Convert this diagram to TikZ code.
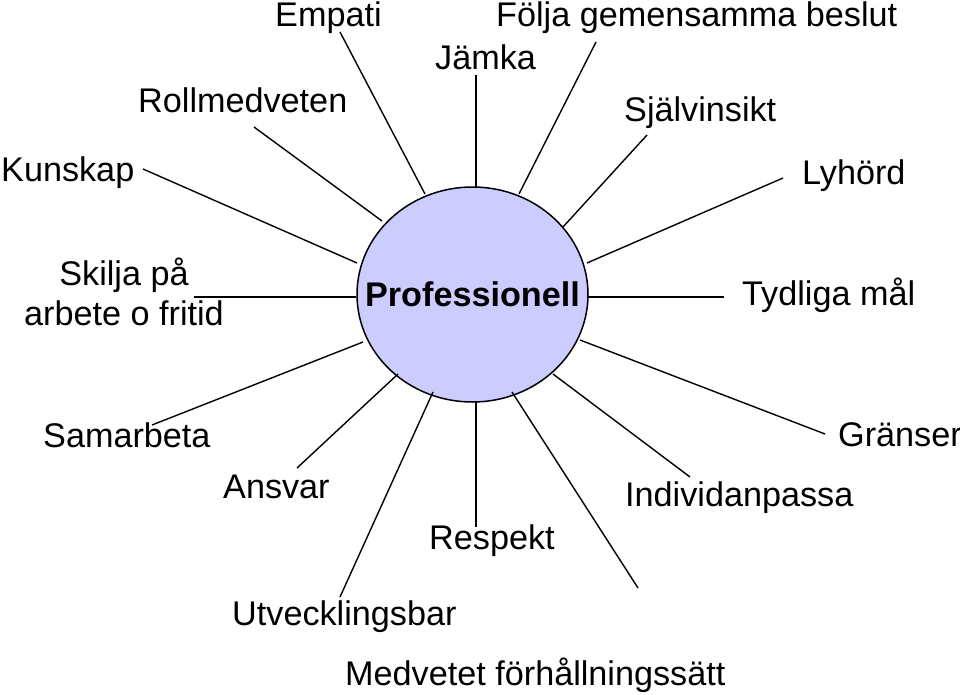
\documentclass[tikz,border=0pt]{standalone}
\usepackage{fontspec}
\setmainfont{Liberation Sans}
\usetikzlibrary{shapes.geometric}
\begin{document}
\begin{tikzpicture}[x=1pt,y=-1pt,
  lbl/.style={anchor=base west,inner sep=0pt,font=\fontsize{34.2}{40}\selectfont},
  spoke/.style={draw=black,line width=1.4pt},
  hub/.style={ellipse,draw=black,line width=1.5pt,fill=hubfill,minimum width=231pt,minimum height=215pt,inner sep=0pt}]
\definecolor{hubfill}{RGB}{204,204,255}
\useasboundingbox (0,0) rectangle (960,695);
\fill[white] (0,0) rectangle (960,695);
\node[hub,label={[inner sep=0pt,font=\fontsize{34.2}{40}\selectfont\bfseries]center:Professionell}] (P) at (472.5,294.5) {};

% labels
\node[lbl] (empati) at (275,27) {Empati};
\node[lbl] (jamka) at (435,70) {Jämka};
\node[lbl] (folja) at (496,27) {Följa gemensamma beslut};
\node[lbl] (roll) at (138,113) {Rollmedveten};
\node[lbl] (sjalv) at (624,122) {Självinsikt};
\node[lbl] (kunskap) at (1,182) {Kunskap};
\node[lbl] (lyhord) at (802,185) {Lyhörd};
\node[lbl,anchor=base,align=center] (skilja) at (124,325) {Skilja på\\arbete o fritid};
\node[lbl] (tydliga) at (742,305) {Tydliga mål};
\node[lbl] (samarbeta) at (43,447) {Samarbeta};
\node[lbl] (granser) at (838,446) {Gränser};
\node[lbl] (ansvar) at (223,498) {Ansvar};
\node[lbl] (individ) at (625,506) {Individanpassa};
\node[lbl] (respekt) at (429,549) {Respekt};
\node[lbl] (utveckl) at (232,625) {Utvecklingsbar};
\node[lbl] (medvetet) at (345,685) {Medvetet förhållningssätt};

% spoke ends
\coordinate (e1) at (340,32);   \coordinate (h1) at (425,194);
\coordinate (e2) at (476,75);   \coordinate (h2) at (476,187);
\coordinate (e3) at (596,42);   \coordinate (h3) at (519,194);
\coordinate (e4) at (647,135);  \coordinate (h4) at (563,227);
\coordinate (e5) at (783,178);  \coordinate (h5) at (587,263);
\coordinate (e6) at (724,297);  \coordinate (h6) at (588,297);
\coordinate (e7) at (825,434);  \coordinate (h7) at (580,340);
\coordinate (e8) at (690,477);  \coordinate (h8) at (553,374);
\coordinate (e9) at (638,588);  \coordinate (h9) at (512,392);
\coordinate (e10) at (476,527); \coordinate (h10) at (476,402);
\coordinate (e11) at (340,597); \coordinate (h11) at (433,392);
\coordinate (e12) at (297,468); \coordinate (h12) at (398,374);
\coordinate (e13) at (152,425); \coordinate (h13) at (363,342);
\coordinate (e14) at (194,297); \coordinate (h14) at (356,297);
\coordinate (e15) at (143,169); \coordinate (h15) at (357,263);
\coordinate (e16) at (254,127); \coordinate (h16) at (382,221);

\foreach \i in {1,...,16} {\draw[spoke] (h\i) -- (e\i);}
\end{tikzpicture}
\end{document}
